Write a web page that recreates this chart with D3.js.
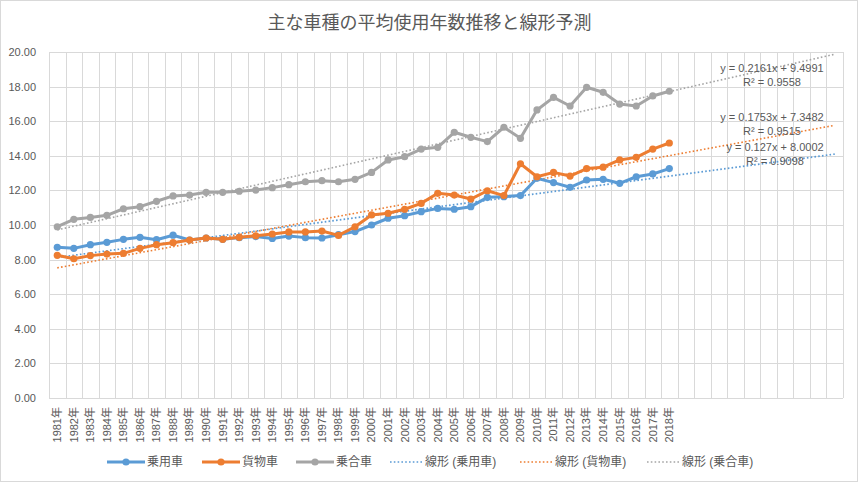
<!DOCTYPE html>
<html>
<head>
<meta charset="utf-8">
<script src="https://cdn.jsdelivr.net/npm/d3@7"></script>
<style>
  body { margin: 0; background: #fff; }
  text { font-family: "Liberation Sans", "Noto Sans CJK JP", sans-serif; fill: #595959; }
</style>
</head>
<body>
<div id="chart"></div>
<script>
// data
const years = d3.range(1981, 2019);
const forecastPeriods = 10;
const passenger = [8.71, 8.65, 8.86, 9.00, 9.17, 9.29, 9.15, 9.41, 9.13, 9.25,
                   9.17, 9.27, 9.33, 9.22, 9.36, 9.27, 9.25, 9.44, 9.62, 10.00,
                   10.39, 10.54, 10.77, 10.96, 10.91, 11.06, 11.60, 11.64, 11.70, 12.70,
                   12.45, 12.18, 12.60, 12.64, 12.41, 12.79, 12.95, 13.26];
const cargo = [8.25, 8.05, 8.23, 8.32, 8.36, 8.65, 8.86, 8.98, 9.13, 9.25,
               9.17, 9.29, 9.38, 9.48, 9.60, 9.60, 9.65, 9.40, 9.90, 10.58,
               10.68, 10.91, 11.25, 11.83, 11.73, 11.50, 11.98, 11.70, 13.54, 12.79,
               13.04, 12.83, 13.26, 13.34, 13.76, 13.91, 14.39, 14.74];
const bus = [9.90, 10.33, 10.44, 10.56, 10.94, 11.06, 11.37, 11.68, 11.73, 11.89,
             11.89, 11.95, 12.02, 12.16, 12.33, 12.50, 12.56, 12.50, 12.64, 13.04,
             13.76, 13.95, 14.39, 14.49, 15.36, 15.07, 14.82, 15.65, 15.01, 16.65,
             17.38, 16.88, 17.96, 17.67, 16.99, 16.88, 17.46, 17.73];
const seriesNames = ["乗用車", "貨物車", "乗合車"];
const seriesColors = ["#5b9bd5", "#ed7d31", "#a5a5a5"];
// trendline coefficients as printed on the chart: [slope, intercept, r2]
const trendSlope = [0.127, 0.1753, 0.2161];
const trendIntercept = [8.0002, 7.3482, 9.4991];
const trendR2 = ["0.9098", "0.9515", "0.9558"];
const trendEqText = ["y = 0.127x + 8.0002", "y = 0.1753x + 7.3482", "y = 0.2161x + 9.4991"];
const yTicks = d3.range(0, 21, 2);

const width = 859, height = 482;
const margin = {top: 52, right: 16, bottom: 84, left: 49};

const svg = d3.select("#chart").append("svg")
    .attr("width", width).attr("height", height);

svg.append("rect")
    .attr("x", 0.5).attr("y", 0.5)
    .attr("width", width - 2).attr("height", height - 1)
    .attr("fill", "#fff").attr("stroke", "#d9d9d9");

svg.append("text")
    .attr("x", width / 2).attr("y", 29)
    .attr("text-anchor", "middle")
    .style("font-size", "18px")
    .style("font-family", "'Noto Sans CJK JP', sans-serif")
    .text("主な車種の平均使用年数推移と線形予測");

// categories: the 38 years plus the forecast periods with no label
const cats = years.map(d => d + "年")
    .concat(d3.range(forecastPeriods).map(i => "_f" + i));

const x = d3.scaleBand()
    .domain(cats)
    .range([margin.left, width - margin.right])
    .padding(0);
const bw = x.bandwidth();

const y = d3.scaleLinear()
    .domain([0, 20])
    .range([height - margin.bottom, margin.top]);

// period index (1-based, like excel) -> pixel
const xi = d3.scaleLinear()
    .domain([1, cats.length])
    .range([x(cats[0]) + bw / 2, x(cats[cats.length - 1]) + bw / 2]);

const grid = svg.append("g").attr("stroke", "#d9d9d9").attr("stroke-width", 1);
grid.selectAll(".hg")
    .data(yTicks)
    .enter().append("line")
    .attr("x1", margin.left).attr("x2", width - margin.right)
    .attr("y1", d => Math.round(y(d)) + 0.5).attr("y2", d => Math.round(y(d)) + 0.5);
grid.selectAll(".vg")
    .data(cats.map(c => x(c)).concat([x(cats[cats.length - 1]) + bw]))
    .enter().append("line")
    .attr("x1", d => Math.round(d) + 0.5).attr("x2", d => Math.round(d) + 0.5)
    .attr("y1", y(20)).attr("y2", y(0));

// y axis labels
const yAxis = svg.append("g")
    .attr("transform", "translate(" + margin.left + ",0)")
    .call(d3.axisLeft(y).tickValues(yTicks).tickFormat(d3.format(".2f")).tickSize(0).tickPadding(13));
yAxis.select(".domain").remove();
yAxis.selectAll("text").style("font-size", "11px").attr("fill", "#595959")
    .style("font-family", "'Liberation Sans', sans-serif");

// x axis labels, rotated
const xAxis = svg.append("g")
    .attr("transform", "translate(0," + y(0) + ")")
    .call(d3.axisBottom(x).tickSize(0).tickFormat(d => d.startsWith("_") ? "" : d));
xAxis.select(".domain").remove();
xAxis.selectAll("text")
    .attr("transform", "rotate(-90)")
    .attr("x", -9).attr("y", 0).attr("dy", "0.35em")
    .attr("text-anchor", "end")
    .attr("fill", "#595959")
    .style("font-size", "11px");

// trendlines
const trendG = svg.append("g");
seriesNames.forEach((name, s) => {
    const pts = [1, cats.length].map(t => [xi(t), y(trendSlope[s] * t + trendIntercept[s])]);
    trendG.append("path")
        .attr("d", d3.line()(pts))
        .attr("fill", "none")
        .attr("stroke", seriesColors[s])
        .attr("stroke-width", 1.6)
        .attr("stroke-dasharray", "1.6 2.2");
});

// data lines
const allSeries = [passenger, cargo, bus];
const line = d3.line().x((d, i) => x(cats[i]) + bw / 2).y(d => y(d));
allSeries.forEach((vals, s) => {
    const g = svg.append("g");
    g.append("path")
        .attr("d", line(vals))
        .attr("fill", "none")
        .attr("stroke", seriesColors[s])
        .attr("stroke-width", 3)
        .attr("stroke-linejoin", "round");
    g.selectAll("circle")
        .data(vals)
        .enter().append("circle")
        .attr("cx", (d, i) => x(cats[i]) + bw / 2)
        .attr("cy", d => y(d))
        .attr("r", 3.6)
        .attr("fill", seriesColors[s]);
});

// trendline labels
const labelPos = [[775, 147], [772, 117], [772, 68]];
seriesNames.forEach((name, s) => {
    const t = svg.append("text")
        .attr("text-anchor", "middle")
        .style("font-size", "11px")
        .attr("x", labelPos[s][0]).attr("y", labelPos[s][1]);
    t.append("tspan").attr("x", labelPos[s][0]).attr("dy", "0.35em").text(trendEqText[s]);
    t.append("tspan").attr("x", labelPos[s][0]).attr("dy", "14.5").text("R² = " + trendR2[s]);
});

// legend
const legendY = 462;
const legendItems = seriesNames.map((n, i) => ({name: n, color: seriesColors[i], trend: false, x: [107, 202, 296][i]}))
    .concat(seriesNames.map((n, i) => ({name: "線形 (" + n + ")", color: seriesColors[i], trend: true, x: [390, 520, 647][i]})));
const lg = svg.append("g").selectAll("g")
    .data(legendItems)
    .enter().append("g")
    .attr("transform", d => "translate(" + d.x + "," + legendY + ")");
lg.append("line")
    .attr("x1", 0).attr("x2", d => d.trend ? 32 : 38)
    .attr("stroke", d => d.color)
    .attr("stroke-width", d => d.trend ? 1.6 : 3)
    .attr("stroke-dasharray", d => d.trend ? "1.6 2.2" : null);
lg.filter(d => !d.trend).append("circle")
    .attr("cx", 19).attr("r", 3.6)
    .attr("fill", d => d.color);
lg.append("text")
    .attr("x", d => d.trend ? 35 : 40)
    .attr("dy", "0.35em")
    .style("font-size", "12px")
    .text(d => d.name);
</script>
</body>
</html>
